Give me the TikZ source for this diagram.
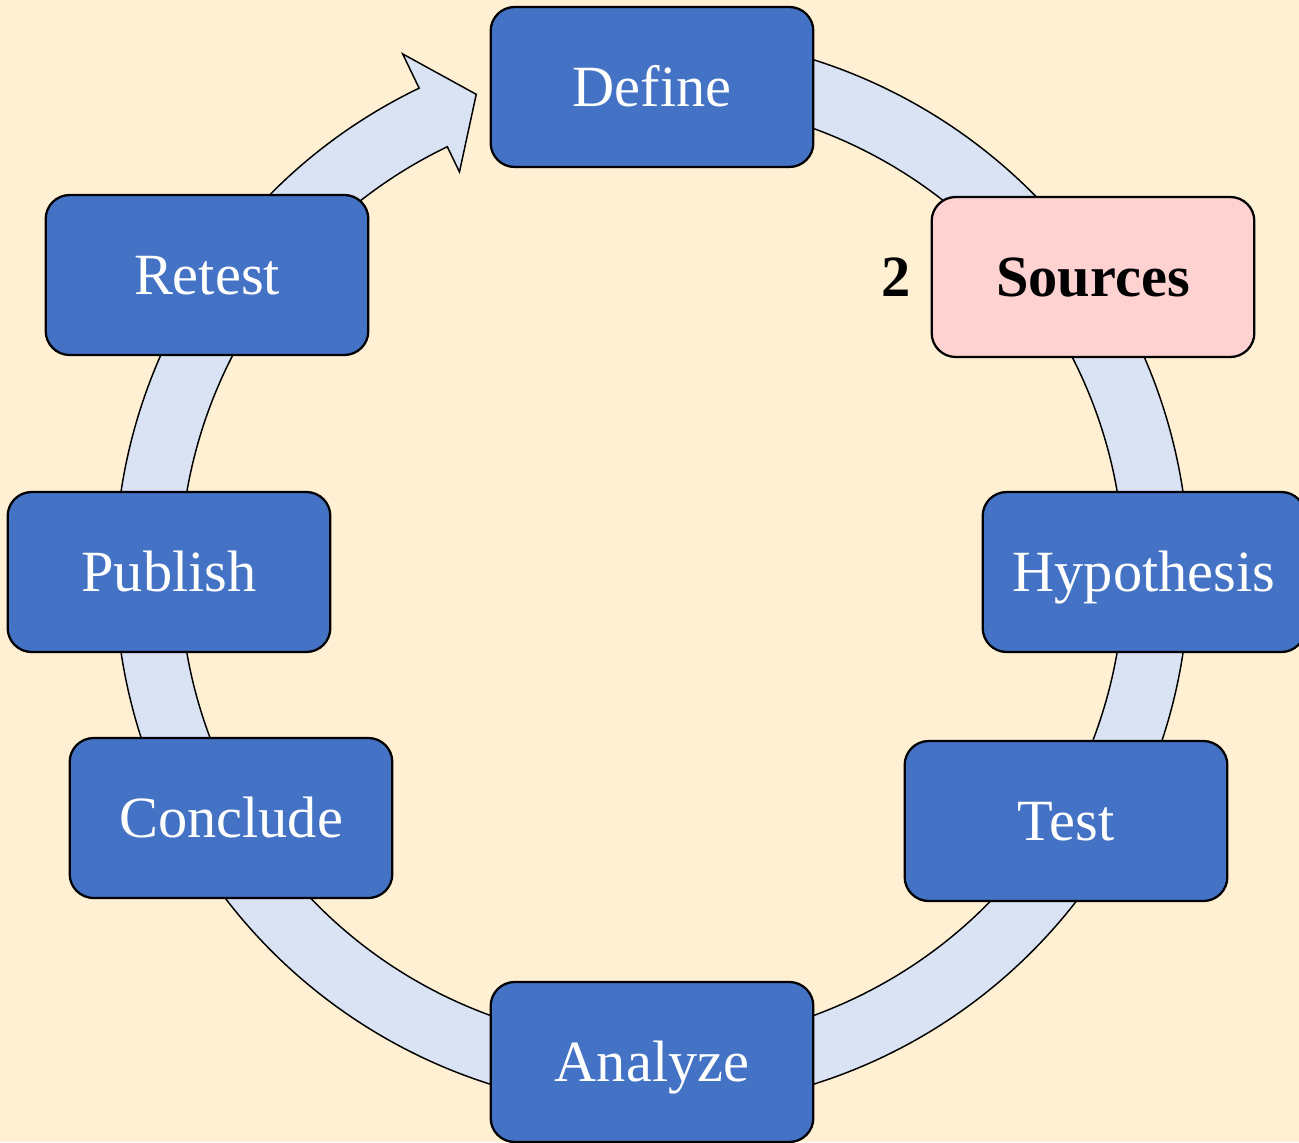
\documentclass[tikz,border=0pt]{standalone}
\usepackage{fontspec}
\setmainfont{Liberation Serif}
\usepackage{tikz}
\usetikzlibrary{calc,positioning}

\begin{document}
\begin{tikzpicture}[x=0.75pt,y=0.75pt,yscale=-1,xscale=1,
  stepbox/.style={draw=black, line width=1.7pt, rounded corners=18pt,
    fill={rgb, 255:red, 68; green, 114; blue, 196 }, text=white,
    minimum width=242pt, minimum height=120pt, inner sep=0pt,
    text height=39pt, text depth=10.5pt,
    font=\fontsize{43.8}{52}\selectfont},
  activebox/.style={stepbox, fill={rgb, 255:red, 255; green, 210; blue, 210 },
    text=black, font=\fontsize{43.8}{52}\selectfont\bfseries},
  steplabel/.style={inner sep=0pt, font=\fontsize{43.8}{52}\selectfont\bfseries},
  cyclearrow/.style={draw=black, line width=1.1pt,
    fill={rgb, 255:red, 218; green, 227; blue, 243 }}]

%Background
\fill [color={rgb, 255:red, 255; green, 240; blue, 212 }] (0,0) rectangle (1299,1142);
\useasboundingbox (0,0) rectangle (1299,1142);

%Cycle arrow
\coordinate (ctr) at (652,572);
\draw [cyclearrow] ($(ctr)+(-100:537)$) arc [start angle=-100, end angle=244.3, radius=537]
  -- ($(ctr)+(244.3:575)$) -- ($(ctr)+(249.8:509)$) -- ($(ctr)+(244.3:444)$)
  -- ($(ctr)+(244.3:472)$) arc [start angle=244.3, end angle=-100, radius=472] -- cycle ;

%Steps
\node [stepbox] (define) at (652,87) {Define};
\node [activebox] (sources) at (1093,277) {Sources};
\node [stepbox] (hypothesis) at (1144,572) {Hypothesis};
\node [stepbox] (test) at (1066,821) {Test};
\node [stepbox] (analyze) at (652,1062) {Analyze};
\node [stepbox] (conclude) at (231,818) {Conclude};
\node [stepbox] (publish) at (169,572) {Publish};
\node [stepbox] (retest) at (207,275) {Retest};

% Text Node
\node [steplabel, left=15pt of sources] (sourcesnum) {2};

\end{tikzpicture}
\end{document}
